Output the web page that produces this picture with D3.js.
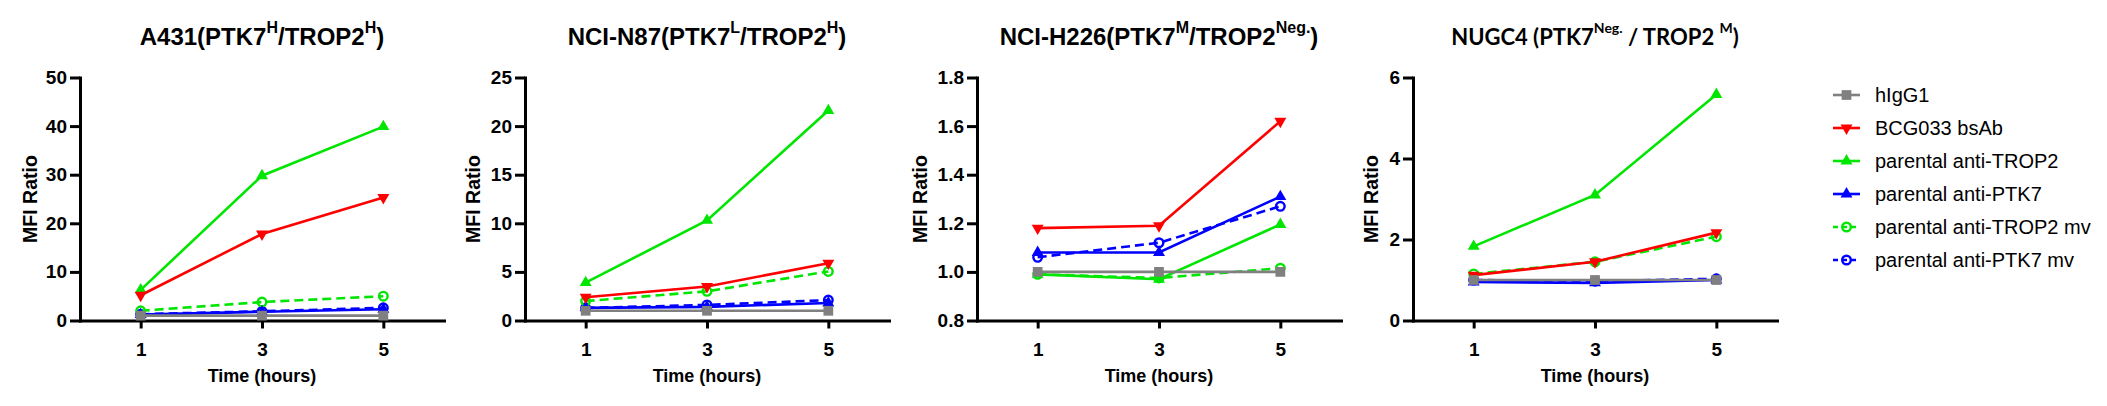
<!DOCTYPE html>
<html>
<head>
<meta charset="utf-8">
<script src="https://cdn.jsdelivr.net/npm/d3@7"></script>
<style>
  body { margin: 0; background: #fff; }
  svg { display: block; }
  text { font-family: "Liberation Sans", Arial, sans-serif; fill: #000; }
</style>
</head>
<body>
<div id="chart"></div>
<script>
// shared categories
var hours = [1, 3, 5];
var seriesNames = ["hIgG1", "BCG033 bsAb", "parental anti-TROP2", "parental anti-PTK7",
                   "parental anti-TROP2 mv", "parental anti-PTK7 mv"];

// MFI ratio per series (rows follow seriesNames)
var a431Values = [
  [1.0, 1.0, 1.0],
  [5.2, 17.8, 25.3],
  [6.3, 29.8, 39.9],
  [1.2, 1.8, 2.3],
  [2.0, 3.8, 5.0],
  [1.3, 1.9, 2.6]
];
var n87Values = [
  [1.0, 1.0, 1.0],
  [2.4, 3.5, 5.9],
  [3.9, 10.3, 21.6],
  [1.3, 1.4, 1.8],
  [2.0, 3.0, 5.05],
  [1.3, 1.6, 2.1]
];
var h226Values = [
  [1.0, 1.0, 1.0],
  [1.18, 1.19, 1.62],
  [0.99, 0.97, 1.195],
  [1.08, 1.08, 1.31],
  [0.99, 0.975, 1.015],
  [1.06, 1.12, 1.27]
];
var nugc4Values = [
  [1.0, 1.0, 1.0],
  [1.12, 1.45, 2.17],
  [1.83, 3.1, 5.58],
  [0.95, 0.93, 1.0],
  [1.15, 1.45, 2.07],
  [1.0, 0.97, 1.03]
];

// tick labels
var a431Ticks = [0, 10, 20, 30, 40, 50];
var n87Ticks = [0, 5, 10, 15, 20, 25];
var h226Ticks = [0.8, 1.0, 1.2, 1.4, 1.6, 1.8];
var nugc4Ticks = [0, 2, 4, 6];

// titles, [text, isSuperscript]
var a431Title = [["A431(PTK7", 0], ["H", 1], ["/TROP2", 0], ["H", 1], [")", 0]];
var n87Title = [["NCI-N87(PTK7", 0], ["L", 1], ["/TROP2", 0], ["H", 1], [")", 0]];
var h226Title = [["NCI-H226(PTK7", 0], ["M", 1], ["/TROP2", 0], ["Neg.", 1], [")", 0]];
var nugc4Title = [["NUGC4 (PTK7", 0], ["Neg.", 1], [" / TROP2 ", 0], ["M", 1], [")", 0]];

// styles
var colors = ["#808080", "#ff0000", "#00e600", "#0000ff", "#00e600", "#0000ff"];
var shapes = ["square", "down", "up", "up", "circle", "circle"];
var dashed = [false, false, false, false, true, true];

var W = 2107, H = 406;
var svg = d3.select("#chart").append("svg")
    .attr("width", W).attr("height", H);

// per panel layout: left axis x, y-label offset
var panels = [
  { values: a431Values, ticks: a431Ticks, title: a431Title, left: 80,  lab: 50, fmt: d3.format("d") },
  { values: n87Values,  ticks: n87Ticks,  title: n87Title,  left: 525, lab: 52, fmt: d3.format("d") },
  { values: h226Values, ticks: h226Ticks, title: h226Title, left: 977, lab: 57, fmt: d3.format(".1f") },
  { values: nugc4Values, ticks: nugc4Ticks, title: nugc4Title, left: 1413, lab: 42, fmt: d3.format("d"), calibri: true }
];

var plotW = 364, plotTop = 77.5, plotBottom = 320.5;

function symbolPath(shape) {
  if (shape == "square") return d3.symbol().type(d3.symbolSquare).size(95)();
  return d3.symbol().type(d3.symbolTriangle).size(62)();
}

function drawMarker(g, shape, color, cx, cy) {
  if (shape == "circle") {
    g.append("circle").attr("cx", cx).attr("cy", cy).attr("r", 4.3)
      .attr("fill", "none").attr("stroke", color).attr("stroke-width", 2.4);
  } else {
    var rot = shape == "down" ? " rotate(180)" : "";
    g.append("path").attr("d", symbolPath(shape))
      .attr("transform", "translate(" + cx + "," + cy + ")" + rot)
      .attr("fill", color);
  }
}

panels.forEach(function(p) {
  var x = d3.scaleLinear().domain([0, 6]).range([p.left, p.left + plotW]);
  var y = d3.scaleLinear().domain([p.ticks[0], p.ticks[p.ticks.length - 1]]).range([plotBottom, plotTop]);
  var g = svg.append("g");

  // axes
  var yAxis = g.append("g").attr("transform", "translate(" + p.left + ",0)")
    .call(d3.axisLeft(y).tickValues(p.ticks).tickFormat(p.fmt).tickSize(10).tickSizeOuter(0).tickPadding(3));
  var xAxis = g.append("g").attr("transform", "translate(0," + plotBottom + ")")
    .call(d3.axisBottom(x).tickValues(hours).tickFormat(d3.format("d")).tickSize(8).tickSizeOuter(0).tickPadding(14));
  [yAxis, xAxis].forEach(function(a) {
    a.select(".domain").attr("stroke", "#000").attr("stroke-width", 3).attr("stroke-linecap", "square");
    a.selectAll(".tick line").attr("stroke", "#000").attr("stroke-width", 3);
    a.selectAll(".tick text").attr("font-size", 19).attr("font-weight", "bold")
      .attr("font-family", "'Liberation Sans', Arial, sans-serif").attr("fill", "#000");
  });

  // axis titles
  g.append("text")
    .attr("transform", "translate(" + (p.left - p.lab + 7) + "," + ((plotTop + plotBottom) / 2) + ") rotate(-90)")
    .attr("text-anchor", "middle").attr("font-size", 19.5).attr("font-weight", "bold")
    .text("MFI Ratio");
  g.append("text")
    .attr("x", x(3)).attr("y", 382)
    .attr("text-anchor", "middle").attr("font-size", 18).attr("font-weight", "bold")
    .text("Time (hours)");

  // title
  var t = g.append("text").attr("x", x(3)).attr("y", 45)
    .attr("text-anchor", "middle").attr("font-weight", "bold")
    .attr("font-size", p.calibri ? 22 : 24);
  if (p.calibri) t.style("font-family", "Lato, 'Liberation Sans', sans-serif");
  var shift = 0;
  p.title.forEach(function(part) {
    var want = part[1] ? -12 : 0;
    t.append("tspan").attr("dy", want - shift)
      .attr("font-size", part[1] ? (p.calibri ? 14 : 16) : null)
      .text(part[0]);
    shift = want;
  });

  // series, drawn last-first so hIgG1 sits on top
  var line = d3.line().x(function(d, i) { return x(hours[i]); }).y(function(d) { return y(d); });
  d3.range(seriesNames.length).reverse().forEach(function(s) {
    var sg = g.append("g");
    sg.append("path").datum(p.values[s])
      .attr("d", line)
      .attr("fill", "none")
      .attr("stroke", colors[s])
      .attr("stroke-width", 2.6)
      .attr("stroke-dasharray", dashed[s] ? "9,5" : null);
    p.values[s].forEach(function(v, i) {
      drawMarker(sg, shapes[s], colors[s], x(hours[i]), y(v));
    });
  });
});

// legend
var legend = svg.append("g");
seriesNames.forEach(function(name, s) {
  var cy = 95 + s * 33;
  var lg = legend.append("g");
  lg.append("line").attr("x1", 1833).attr("x2", 1860).attr("y1", cy).attr("y2", cy)
    .attr("stroke", colors[s]).attr("stroke-width", 2.6)
    .attr("stroke-dasharray", dashed[s] ? "5,4" : null);
  drawMarker(lg, shapes[s], colors[s], 1846.5, cy);
  lg.append("text").attr("x", 1875).attr("y", cy + 7)
    .attr("font-size", 20).text(name);
});
</script>
</body>
</html>
